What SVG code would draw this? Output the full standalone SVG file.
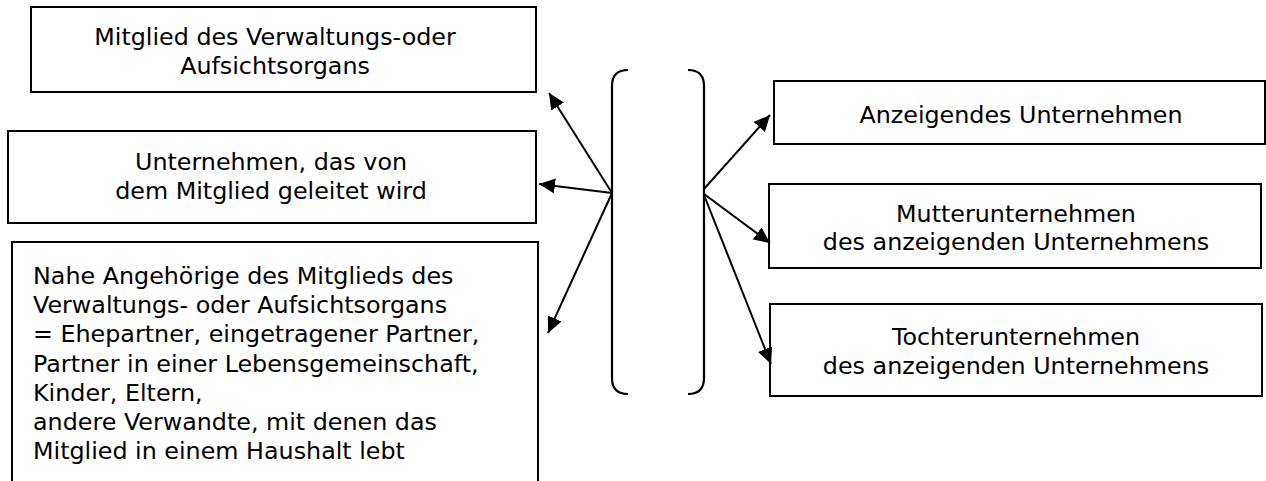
<svg xmlns="http://www.w3.org/2000/svg" width="1266" height="481" viewBox="0 0 1266 481">
<style>
.box{fill:#fff;stroke:#000;stroke-width:2}
.t{font-family:"DejaVu Sans",Verdana,sans-serif;font-size:23.8px;fill:#000}
.c{text-anchor:middle}
.ln{fill:none;stroke:#000;stroke-width:2}
.br{fill:none;stroke:#000;stroke-width:2.2;stroke-linecap:butt}
</style>
<defs>
<marker id="ah" markerUnits="userSpaceOnUse" markerWidth="17" markerHeight="15" refX="16" refY="7.5" orient="auto">
<path d="M0,0 L16,7.5 L0,15 z" fill="#000"/>
</marker>
</defs>
<rect width="1266" height="481" fill="#fff"/>
<g id="n1">
<rect class="box" x="31" y="7" width="505" height="85"/>
<text class="t c" x="275" y="45">Mitglied des Verwaltungs-oder</text>
<text class="t c" x="275" y="74">Aufsichtsorgans</text>
</g>
<g id="n2">
<rect class="box" x="8" y="131" width="528" height="92"/>
<text class="t c" x="271" y="170">Unternehmen, das von</text>
<text class="t c" x="271" y="199">dem Mitglied geleitet wird</text>
</g>
<g id="n3">
<rect class="box" x="12" y="242" width="526" height="260"/>
<text class="t" x="33" y="284">Nahe Angehörige des Mitglieds des</text>
<text class="t" x="33" y="313">Verwaltungs- oder Aufsichtsorgans</text>
<text class="t" x="33" y="342">= Ehepartner, eingetragener Partner,</text>
<text class="t" x="33" y="371.5">Partner in einer Lebensgemeinschaft,</text>
<text class="t" x="33" y="400.5">Kinder, Eltern,</text>
<text class="t" x="33" y="430">andere Verwandte, mit denen das</text>
<text class="t" x="33" y="459">Mitglied in einem Haushalt lebt</text>
</g>
<g id="bracket">
<path class="br" d="M628,70 Q612,70 612,86 V378 Q612,394 628,394"/>
<path class="br" d="M688,70 Q704,70 704,86 V378 Q704,394 688,394"/>
</g>
<g id="n4">
<rect class="box" x="774" y="81" width="491" height="63"/>
<text class="t c" x="1021" y="123">Anzeigendes Unternehmen</text>
</g>
<g id="n5">
<rect class="box" x="769" y="184" width="492" height="84"/>
<text class="t c" x="1016" y="221.5">Mutterunternehmen</text>
<text class="t c" x="1016" y="250">des anzeigenden Unternehmens</text>
</g>
<g id="n6">
<rect class="box" x="770" y="304" width="492" height="92"/>
<text class="t c" x="1016" y="345">Tochterunternehmen</text>
<text class="t c" x="1016" y="374">des anzeigenden Unternehmens</text>
</g>
<g id="connectors">
<line class="ln" x1="612" y1="193" x2="549" y2="93" marker-end="url(#ah)"/>
<line class="ln" x1="612" y1="193" x2="539" y2="184" marker-end="url(#ah)"/>
<line class="ln" x1="612" y1="193" x2="548" y2="333" marker-end="url(#ah)"/>
<line class="ln" x1="704" y1="189" x2="770" y2="115" marker-end="url(#ah)"/>
<line class="ln" x1="704" y1="194" x2="770" y2="243" marker-end="url(#ah)"/>
<line class="ln" x1="704" y1="195" x2="771" y2="364" marker-end="url(#ah)"/>
</g>
</svg>
